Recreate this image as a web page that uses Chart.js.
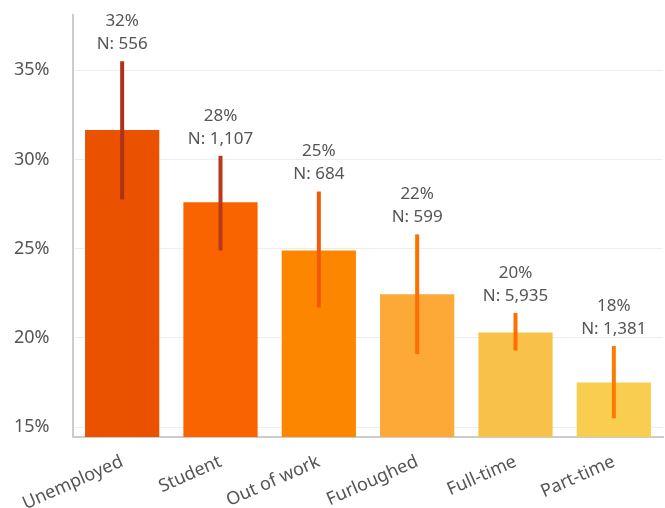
<!DOCTYPE html>
<html>
<head>
<meta charset="utf-8">
<script src="https://cdn.jsdelivr.net/npm/chart.js@4/dist/chart.umd.min.js"></script>
<style>
  html, body { margin: 0; padding: 0; background: #fff; }
  #wrap { width: 665px; height: 508px; }
</style>
</head>
<body>
<div id="wrap"><canvas id="chart"></canvas></div>
<script>
"use strict";

const CATEGORIES = ["Unemployed", "Student", "Out of work", "Furloughed", "Full-time", "Part-time"];
const VALUES = [31.65, 27.6, 24.9, 22.45, 20.3, 17.5];
const ERR_LOW = [27.75, 24.9, 21.7, 19.1, 19.3, 15.5];
const ERR_HIGH = [35.5, 30.2, 28.2, 25.8, 21.4, 19.55];
const PCT_LABELS = ["32%", "28%", "25%", "22%", "20%", "18%"];
const N_LABELS = ["N: 556", "N: 1,107", "N: 684", "N: 599", "N: 5,935", "N: 1,381"];
const Y_TICKS = [15, 20, 25, 30, 35];

const BAR_COLORS = ["#eb5200", "#f96400", "#fd8600", "#fca938", "#f8c14a", "#f9ce50"];
const ERR_COLORS = ["#b0301a", "#b8381a", "#f05a0a", "#ff6e00", "#ff6e00", "#ff7a00"];
const TEXT_COLOR = "#555";
const FONT = "'Noto Sans', sans-serif";

const errorLabels = {
  id: "errorLabels",
  afterDatasetsDraw(chart) {
    const ctx = chart.ctx;
    const y = chart.scales.y;
    const meta = chart.getDatasetMeta(0);
    ctx.save();
    meta.data.forEach(function(bar, i) {
      const top = y.getPixelForValue(ERR_HIGH[i]);
      const bottom = y.getPixelForValue(ERR_LOW[i]);
      ctx.strokeStyle = ERR_COLORS[i];
      ctx.lineWidth = 4;
      ctx.beginPath();
      ctx.moveTo(bar.x, top);
      ctx.lineTo(bar.x, bottom);
      ctx.stroke();

      ctx.fillStyle = TEXT_COLOR;
      ctx.font = "17px " + FONT;
      ctx.textAlign = "center";
      ctx.textBaseline = "middle";
      ctx.fillText(N_LABELS[i], bar.x, top - 17);
      ctx.fillText(PCT_LABELS[i], bar.x, top - 40);
    });
    ctx.restore();
  }
};

window.addEventListener("load", function() {
  const ctx = document.getElementById("chart").getContext("2d");
  new Chart(ctx, {
    type: "bar",
    data: {
      labels: CATEGORIES,
      datasets: [{
        data: VALUES,
        backgroundColor: BAR_COLORS,
        barPercentage: 0.755,
        categoryPercentage: 1
      }]
    },
    options: {
      responsive: true,
      maintainAspectRatio: false,
      animation: false,
      layout: { padding: { top: 0, right: 2, left: 14, bottom: 0 } },
      plugins: {
        legend: { display: false },
        tooltip: { enabled: false }
      },
      scales: {
        x: {
          grid: { display: false },
          border: { color: "#cccccc", width: 2 },
          afterFit: function(scale) { scale.height = 71; },
          ticks: {
            color: TEXT_COLOR,
            font: { family: FONT, size: 18 },
            minRotation: 24,
            maxRotation: 24,
            padding: 6
          }
        },
        y: {
          min: 14.45,
          max: 38.1,
          afterBuildTicks: function(scale) {
            scale.ticks = Y_TICKS.map(v => ({ value: v }));
          },
          afterFit: function(scale) { scale.width = 59; },
          grid: { color: "#eeeeee", lineWidth: 1, drawTicks: false },
          border: { color: "#cccccc", width: 2 },
          ticks: {
            color: TEXT_COLOR,
            font: { family: FONT, size: 18 },
            padding: 4,
            crossAlign: "far",
            callback: v => v + "%"
          }
        }
      }
    },
    plugins: [errorLabels]
  });
});
</script>
</body>
</html>
